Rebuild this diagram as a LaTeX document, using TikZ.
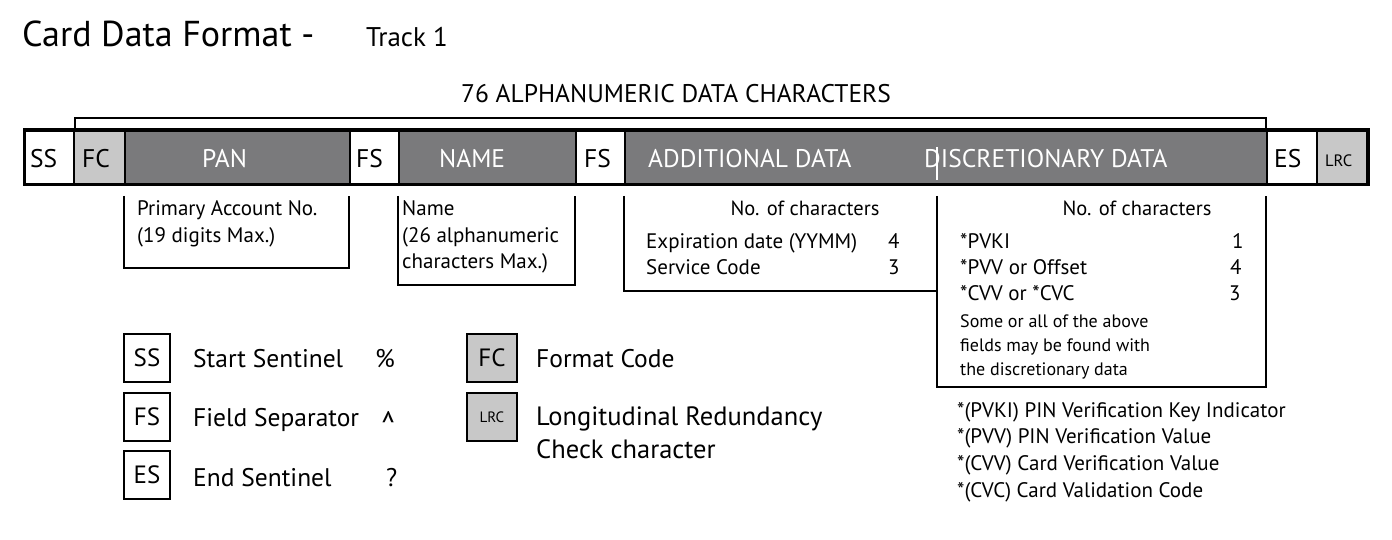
\documentclass[tikz,border=0pt]{standalone}
\usepackage{fontspec}
\setmainfont{PT Sans}
\definecolor{darkcell}{RGB}{122,122,124}
\definecolor{lightcell}{RGB}{200,200,200}
\begin{document}
\begin{tikzpicture}[x=1pt,y=-1pt,
  cell/.style={draw=black,line width=2pt,minimum height=53pt,inner sep=0pt,anchor=north west},
  whitecell/.style={cell,fill=white},
  graycell/.style={cell,fill=lightcell},
  darkcell/.style={cell,fill=darkcell},
  txt/.style={anchor=base west,inner sep=0pt},
  bartxt/.style={txt,font=\fontsize{25.5}{25}\selectfont},
  barwtxt/.style={bartxt,text=white},
  subtxt/.style={txt,font=\fontsize{21}{21}\selectfont},
  legtxt/.style={txt,font=\fontsize{25.5}{25}\selectfont},
  legbox/.style={draw=black,line width=2pt,minimum width=46pt,minimum height=48pt,inner sep=0pt,anchor=north west,font=\fontsize{25}{25}\selectfont},
  openbox/.style={line width=1.8pt},
]
\useasboundingbox[fill=white] (0,0) rectangle (1392,540);
% title
\node[txt,font=\fontsize{36}{36}\selectfont] (title) at (22,47) {Card Data Format -};
\node[txt,font=\fontsize{27}{27}\selectfont] (track) at (366,47) {Track 1};
\node[anchor=base,inner sep=0pt,font=\fontsize{25.5}{25}\selectfont] (count) at (676,103) {76 ALPHANUMERIC DATA CHARACTERS};
% bar cells
\node[whitecell,minimum width=49pt] (ss) at (24,130) {};
\node[graycell,minimum width=51pt] (fc) at (73,130) {};
\node[darkcell,minimum width=225pt] (pan) at (124,130) {};
\node[whitecell,minimum width=49pt] (fs1) at (349,130) {};
\node[darkcell,minimum width=177pt] (name) at (398,130) {};
\node[whitecell,minimum width=49pt] (fs2) at (575,130) {};
\node[darkcell,minimum width=642pt] (add) at (624,130) {};
\node[whitecell,minimum width=50pt] (es) at (1266,130) {};
\node[graycell,minimum width=50pt] (lrc) at (1316,130) {};
\draw[line width=3pt] (ss.north west) rectangle (lrc.south east);
\coordinate (divtop) at (937,147);
\coordinate (divbot) at (937,180);
\draw[white,line width=1.5pt] (divtop) -- (divbot);
% bar texts
\node[bartxt] (sst) at (30,168) {SS};
\node[bartxt] (fct) at (82,168) {FC};
\node[barwtxt] (pant) at (202,168) {PAN};
\node[bartxt] (fs1t) at (356,168) {FS};
\node[barwtxt] (namet) at (439,168) {NAME};
\node[bartxt] (fs2t) at (584,168) {FS};
\node[barwtxt] (addtxt) at (648,168) {ADDITIONAL DATA};
\node[barwtxt] (disctxt) at (924,168) {DISCRETIONARY DATA};
\node[bartxt] (est) at (1274,168) {ES};
\node[txt,font=\fontsize{16.5}{16}\selectfont] (lrct) at (1325,167) {LRC};
% bracket
\draw[line width=2pt] ([xshift=2pt,yshift=-2pt]fc.north west) -- ++(0,-14) -| ([yshift=-2pt]es.north west);
% open boxes
\draw[openbox] (124,196) |- (349,268) -- (349,196);
\node[subtxt] (pan1) at (137,216) {Primary Account No.};
\node[subtxt] (pan2) at (137,243) {(19 digits Max.)};
\draw[openbox] (398,196) |- (575,285) -- (575,196);
\node[subtxt] (nm1) at (402,215) {Name};
\node[subtxt] (nm2) at (402,242) {(26 alphanumeric};
\node[subtxt] (nm3) at (402,268) {characters Max.)};
\draw[openbox] (624,196) |- (937,291);
\draw[openbox] (937,196) |- (1266,387) -- (1266,196);
\node[anchor=base,inner sep=0pt,font=\fontsize{20.5}{20}\selectfont] (noc1) at (805,216) {No. of characters};
\node[subtxt] (exp) at (646,248) {Expiration date (YYMM)};
\node[subtxt] (expn) at (888,248) {4};
\node[subtxt] (svc) at (646,274) {Service Code};
\node[subtxt] (svcn) at (888,274) {3};
\node[anchor=base,inner sep=0pt,font=\fontsize{20.5}{20}\selectfont] (noc2) at (1137,216) {No. of characters};
\node[subtxt] (pvki) at (960,248) {*PVKI};
\node[subtxt] (pvkin) at (1232,248) {1};
\node[subtxt] (pvv) at (960,274) {*PVV or Offset};
\node[subtxt] (pvvn) at (1230,274) {4};
\node[subtxt] (cvv) at (960,300) {*CVV or *CVC};
\node[subtxt] (cvvn) at (1229,300) {3};
\node[subtxt,font=\fontsize{18}{18}\selectfont] (some1) at (960,327) {Some or all of the above};
\node[subtxt,font=\fontsize{18}{18}\selectfont] (some2) at (960,351) {fields may be found with};
\node[subtxt,font=\fontsize{18}{18}\selectfont] (some3) at (960,375) {the discretionary data};
% legend
\node[legbox] (lss) at (123,333) {SS};
\node[legtxt] (lss1) at (193,367) {Start Sentinel};
\node[legtxt] (lss2) at (375,367) {\%};
\node[legbox] (lfs) at (123,392) {FS};
\node[legtxt] (lfs1) at (193,426) {Field Separator};
\node[anchor=north,inner sep=0pt,font=\fontsize{25.5}{25}\selectfont] (lfs2) at (389,411) {\scalebox{1.15}[1.6]{\textasciicircum}};
\node[legbox] (les) at (123,450) {ES};
\node[legtxt] (les1) at (193,486) {End Sentinel};
\node[legtxt] (les2) at (386,486) {?};
\node[legbox,fill=lightcell,minimum width=50pt] (lfc) at (466,333) {FC};
\node[legtxt] (lfc1) at (536,367) {Format Code};
\node[legbox,fill=lightcell,minimum width=50pt,font=\fontsize{15}{15}\selectfont] (llrc) at (466,392) {LRC};
\node[legtxt,font=\fontsize{26.5}{26}\selectfont] (llrc1) at (536,425) {Longitudinal Redundancy};
\node[legtxt,font=\fontsize{26.5}{26}\selectfont] (llrc2) at (536,458) {Check character};
% footnotes
\node[subtxt] (f1) at (957,417) {*(PVKI) PIN Verification Key Indicator};
\node[subtxt] (f2) at (957,443) {*(PVV) PIN Verification Value};
\node[subtxt] (f3) at (957,470) {*(CVV) Card Verification Value};
\node[subtxt] (f4) at (957,497) {*(CVC) Card Validation Code};
\end{tikzpicture}
\end{document}
